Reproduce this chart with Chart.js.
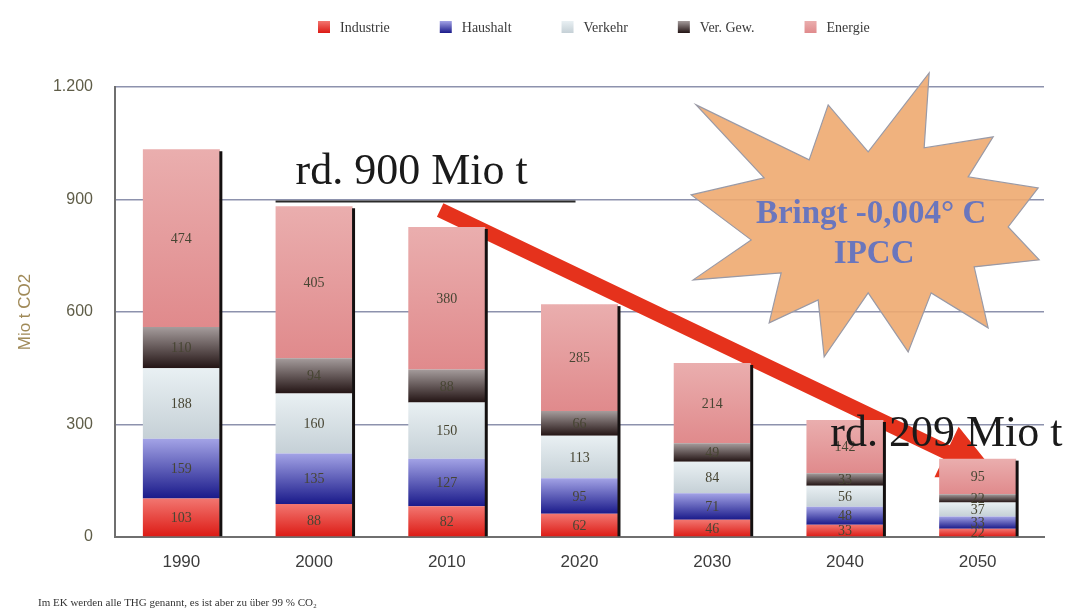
<!DOCTYPE html>
<html>
<head>
<meta charset="utf-8">
<script src="https://cdn.jsdelivr.net/npm/chart.js@4/dist/chart.umd.min.js"></script>
<style>
  html, body { margin: 0; padding: 0; background: #fff; }
  #wrap { position: relative; width: 1066px; height: 612px; }
</style>
</head>
<body>
<div id="wrap"><canvas id="c" width="1066" height="612"></canvas></div>
<script>
// ---- data ----
const years     = ["1990", "2000", "2010", "2020", "2030", "2040", "2050"];
const industrie = [103, 88, 82, 62, 46, 33, 22];
const haushalt  = [159, 135, 127, 95, 71, 48, 33];
const verkehr   = [188, 160, 150, 113, 84, 56, 37];
const verGew    = [110, 94, 88, 66, 49, 33, 22];
const energie   = [474, 405, 380, 285, 214, 142, 95];
const yTicks    = [0, 300, 600, 900, 1200];

const SERIF = "'Liberation Serif', 'DejaVu Serif', serif";
const SANS  = "'Liberation Sans', 'DejaVu Sans', sans-serif";

// gradient stops per series: [top, bottom]
const series = [
  { label: "Industrie", data: industrie, top: "#f27670", bottom: "#dc1a14", key: "#e02a24" },
  { label: "Haushalt",  data: haushalt,  top: "#a3a3e6", bottom: "#1a1a8a", key: "#3535a8" },
  { label: "Verkehr",   data: verkehr,   top: "#e9f0f3", bottom: "#c5d0d6", key: "#d6e0e4" },
  { label: "Ver. Gew.", data: verGew,    top: "#a59c9c", bottom: "#231414", key: "#2e2222" },
  { label: "Energie",   data: energie,   top: "#eaaeae", bottom: "#e08a8c", key: "#e6a0a2" }
];

function fmtDe(v) {
  return v >= 1000 ? Math.floor(v / 1000) + "." + String(v % 1000).padStart(3, "0") : String(v);
}

function segGradient(ctx, si) {
  const chart = ctx.chart;
  const ca = chart.chartArea;
  const s = series[si];
  if (!ca || ctx.type !== "data") return s.key;
  const y = chart.scales.y;
  let start = 0;
  for (let k = 0; k < si; k++) start += series[k].data[ctx.dataIndex];
  const end = start + s.data[ctx.dataIndex];
  const py0 = y.getPixelForValue(end), py1 = y.getPixelForValue(start);
  if (!isFinite(py0) || !isFinite(py1) || py0 === py1) return s.key;
  const g = chart.ctx.createLinearGradient(0, py0, 0, py1);
  g.addColorStop(0, s.top);
  g.addColorStop(1, s.bottom);
  return g;
}

// ---- overlay drawing ----
const overlay = {
  id: "overlay",
  beforeDatasetsDraw(chart) {
    const c = chart.ctx, x = chart.scales.x, y = chart.scales.y;
    c.save();
    // starburst (gridlines show faintly through it)
    const cx = x.getPixelForValue(5.16), cy = y.getPixelForValue(819);
    const pts = [[-170,-125],[-57,-70],[-38,-125],[2,-78],[63,-157],[58,-82],[127,-93],[102,-53],
      [172,-42],[142,-3],[173,30],[108,37],[122,98],[65,63],[42,122],[2,63],[-42,127],[-48,70],
      [-97,93],[-85,43],[-173,50],[-115,10],[-175,-35],[-102,-52]];
    c.beginPath();
    pts.forEach((p, i) => i ? c.lineTo(cx + p[0], cy + p[1]) : c.moveTo(cx + p[0], cy + p[1]));
    c.closePath();
    c.globalAlpha = 0.9;
    c.fillStyle = "#eeaa70";
    c.fill();
    c.globalAlpha = 1;
    c.strokeStyle = "#9a9aa6";
    c.lineWidth = 1.2;
    c.stroke();
    c.fillStyle = "#6a76bd";
    c.font = "bold 33px " + SERIF;
    c.textAlign = "center";
    c.textBaseline = "alphabetic";
    c.fillText("Bringt -0,004° C", cx + 5, cy - 7);
    c.fillText("IPCC", cx + 8, cy + 33);

    // red arrow
    const x0 = x.getPixelForValue(1.95), y0 = y.getPixelForValue(872);
    const x1 = x.getPixelForValue(6.16), y1 = y.getPixelForValue(160);
    const ang = Math.atan2(y1 - y0, x1 - x0);
    const hl = 58, hw = 28, sw = 7.5;
    const bx = x1 - hl * Math.cos(ang), by = y1 - hl * Math.sin(ang);
    const nx = -Math.sin(ang), ny = Math.cos(ang);
    c.beginPath();
    c.moveTo(x0 + nx * sw, y0 + ny * sw);
    c.lineTo(bx + nx * sw, by + ny * sw);
    c.lineTo(bx + nx * hw, by + ny * hw);
    c.lineTo(x1, y1);
    c.lineTo(bx - nx * hw, by - ny * hw);
    c.lineTo(bx - nx * sw, by - ny * sw);
    c.lineTo(x0 - nx * sw, y0 - ny * sw);
    c.closePath();
    c.fillStyle = "#e5321c";
    c.fill();
    c.restore();
  },
  afterDatasetsDraw(chart) {
    const c = chart.ctx, x = chart.scales.x, y = chart.scales.y;
    c.save();
    // right-edge shadow of each bar
    const topMeta = chart.getDatasetMeta(series.length - 1);
    const botMeta = chart.getDatasetMeta(0);
    topMeta.data.forEach((bar, i) => {
      const r = bar.x + bar.width / 2 + 1;
      c.beginPath();
      c.moveTo(r, bar.y + 2);
      c.lineTo(r, botMeta.data[i].base);
      c.strokeStyle = "#141010";
      c.lineWidth = 3;
      c.stroke();
    });
    // value labels
    c.font = "14px " + SERIF;
    c.textAlign = "center";
    c.textBaseline = "middle";
    c.fillStyle = "#474533";
    series.forEach((s, si) => {
      chart.getDatasetMeta(si).data.forEach((bar, i) => {
        c.fillText(String(s.data[i]), bar.x, (bar.y + bar.base) / 2 + 1);
      });
    });

    // "rd. 900 Mio t"
    const ly = y.getPixelForValue(895);
    c.beginPath();
    c.moveTo(x.getPixelForValue(0.71), ly);
    c.lineTo(x.getPixelForValue(2.97), ly);
    c.strokeStyle = "#2a2a2a";
    c.lineWidth = 2;
    c.stroke();
    c.fillStyle = "#1a1a1a";
    c.font = "44px " + SERIF;
    c.textAlign = "left";
    c.textBaseline = "alphabetic";
    c.fillText("rd. 900 Mio t", x.getPixelForValue(0.86), ly - 17);
    c.fillText("rd. 209 Mio t", x.getPixelForValue(4.89), y.getPixelForValue(243));

    // legend
    let lx = 318;
    c.font = "14px " + SERIF;
    c.textBaseline = "middle";
    series.forEach((s) => {
      const g = c.createLinearGradient(0, 21, 0, 33);
      g.addColorStop(0, s.top);
      g.addColorStop(1, s.bottom);
      c.fillStyle = g;
      c.fillRect(lx, 21, 12, 12);
      c.fillStyle = "#3a3a3a";
      c.fillText(s.label, lx + 22, 28);
      lx += 22 + c.measureText(s.label).width + 50;
    });

    // footnote
    c.font = "11px " + SERIF;
    c.fillStyle = "#333";
    c.textBaseline = "alphabetic";
    c.fillText("Im EK werden alle THG genannt, es ist aber zu über 99 % CO\u2082", 38, 606);
    c.restore();
  }
};

new Chart(document.getElementById("c"), {
  type: "bar",
  data: {
    labels: years,
    datasets: series.map((s, si) => ({
      label: s.label,
      data: s.data,
      backgroundColor: (ctx) => segGradient(ctx, si),
      borderWidth: 0,
      categoryPercentage: 1,
      barPercentage: 0.58
    }))
  },
  options: {
    responsive: false,
    animation: false,
    events: [],
    layout: { padding: { top: 87, right: 22, bottom: 30, left: 0 } },
    plugins: { legend: { display: false }, tooltip: { enabled: false } },
    scales: {
      x: {
        stacked: true,
        grid: { display: false },
        border: { display: true, color: "#6f6f6f", width: 2 },
        ticks: { color: "#3c3c3c", font: { family: SANS, size: 17 }, padding: 7 },
        afterFit: (s) => { s.height = 45; }
      },
      y: {
        stacked: true,
        min: 0,
        max: 1200,
        afterBuildTicks: (s) => { s.ticks = yTicks.map((v) => ({ value: v })); },
        grid: { color: "#8d92ad", lineWidth: 1.5, drawTicks: false },
        border: { display: true, color: "#6f6f6f", width: 2 },
        ticks: {
          color: "#5f5d48",
          font: { family: SANS, size: 16 },
          padding: 22,
          callback: (v) => fmtDe(v)
        },
        title: {
          display: true,
          text: "Mio t CO2",
          color: "#a08a58",
          font: { family: SANS, size: 17 },
          padding: 15
        },
        afterFit: (s) => { s.width = 115; }
      }
    }
  },
  plugins: [overlay]
});
</script>
</body>
</html>
